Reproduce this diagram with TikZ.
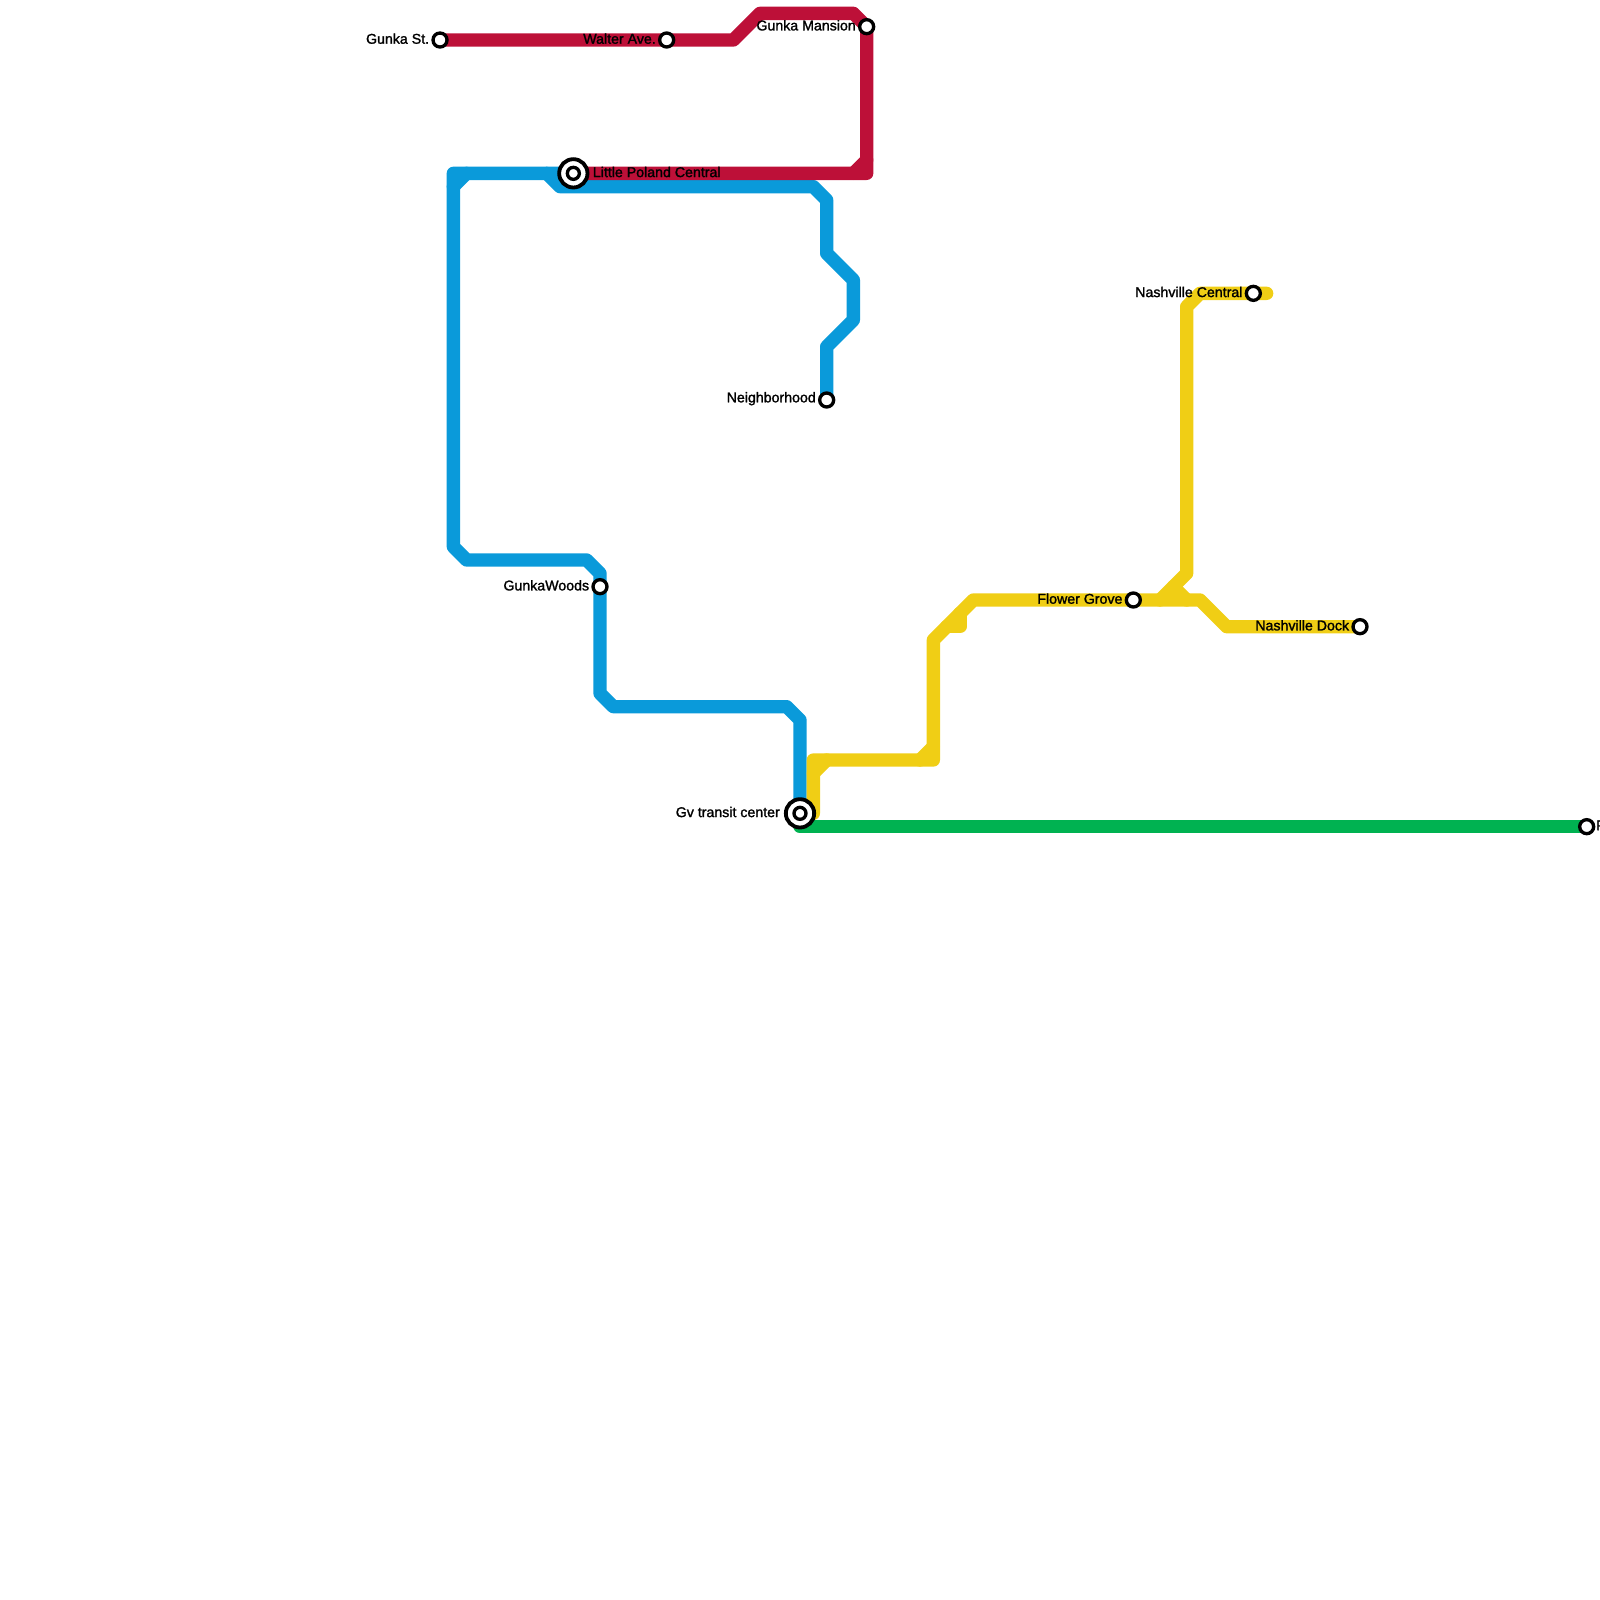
\documentclass[tikz,border=0pt]{standalone}
\usepackage{fontspec}
\setmainfont[FakeBold=1.5]{Liberation Sans}
\definecolor{redline}{HTML}{BD1038}
\definecolor{blueline}{HTML}{0A9ADA}
\definecolor{yellowline}{HTML}{F0CE15}
\definecolor{greenline}{HTML}{00B251}
\tikzset{
  metro/.style={line width=0.4cm,line cap=round,line join=round},
  stationmark/.style={circle,draw=black,fill=white,line width=0.1cm,minimum size=0.42cm,inner sep=0pt},
  hubouter/.style={circle,draw=black,fill=white,line width=0.115cm,minimum size=0.85cm,inner sep=0pt},
  hubinner/.style={circle,draw=black,fill=white,line width=0.1cm,minimum size=0.36cm,inner sep=0pt},
  stationlabel/.style={font=\fontsize{12.1pt}{14pt}\selectfont,text=black,inner sep=0pt}
}
\begin{document}
\begin{tikzpicture}[x=0.4cm,y=-0.4cm]
\useasboundingbox (0,0) rectangle (120,120);
\clip (0,0) rectangle (120,120);
\coordinate (gunkast) at (33,3);
\coordinate (walter) at (50,3);
\coordinate (mansion) at (65,2);
\coordinate (poland) at (43,13);
\coordinate (neigh) at (62,30);
\coordinate (woods) at (45,44);
\coordinate (gv) at (60,61);
\coordinate (flower) at (85,45);
\coordinate (nashc) at (94,22);
\coordinate (nashd) at (102,47);
\coordinate (eastend) at (119,62);
% blue
\draw[metro,blueline] (poland) -- (41,13) -- (42,14) -- (61,14) -- (62,15) -- (62,19) -- (64,21) -- (64,24) -- (62,26) -- (neigh);
\draw[metro,blueline] (41,13) -- (34,13) -- (34,41) -- (35,42) -- (44,42) -- (45,43) -- (woods) -- (45,52) -- (46,53) -- (59,53) -- (60,54) -- (gv);
\draw[metro,blueline] (34,14) -- (35,13);
% red
\draw[metro,redline] (gunkast) -- (walter) -- (55,3) -- (57,1) -- (64,1) -- (mansion) -- (65,13) -- (poland);
\draw[metro,redline] (64,13) -- (65,12);
% yellow
\draw[metro,yellowline] (61,61) -- (61,57) -- (70,57) -- (70,48) -- (73,45) -- (flower) -- (90,45) -- (92,47) -- (nashd);
\draw[metro,yellowline] (61,58) -- (62,57);
\draw[metro,yellowline] (69,57) -- (70,56);
\draw[metro,yellowline] (71,47) -- (72,47) -- (72,46);
\draw[metro,yellowline] (87,45) -- (89,43) -- (89,23) -- (90,22) -- (nashc) -- (95,22);
\draw[metro,yellowline] (88,44) -- (89,45);
% green
\draw[metro,greenline] (60,62) -- (eastend);
% stations
\node[stationmark] (sgunkast) at (gunkast) {};
\node[stationmark] (swalter) at (walter) {};
\node[stationmark] (smansion) at (mansion) {};
\node[stationmark] (sneigh) at (neigh) {};
\node[stationmark] (swoods) at (woods) {};
\node[stationmark] (sflower) at (flower) {};
\node[stationmark] (snashc) at (nashc) {};
\node[stationmark] (snashd) at (nashd) {};
\node[stationmark] (seast) at (eastend) {};
\node[hubouter] (spoland) at (poland) {};
\node[hubinner] (spolandi) at (poland) {};
\node[hubouter] (sgv) at (gv) {};
\node[hubinner] (sgvi) at (gv) {};
% labels
\node[stationlabel,anchor=east] (lgunkast) at (32.2,2.9) {Gunka St.};
\node[stationlabel,anchor=east] (lwalter) at (49.2,2.9) {Walter Ave.};
\node[stationlabel,anchor=east] (lmansion) at (64.2,1.9) {Gunka Mansion};
\node[stationlabel,anchor=west] (lpoland) at (44.45,12.9) {Little Poland Central};
\node[stationlabel,anchor=east] (lneigh) at (61.2,29.9) {Neighborhood};
\node[stationlabel,anchor=east] (lwoods) at (44.2,43.9) {GunkaWoods};
\node[stationlabel,anchor=east] (lgv) at (58.5,60.9) {Gv transit center};
\node[stationlabel,anchor=east] (lflower) at (84.2,44.9) {Flower Grove};
\node[stationlabel,anchor=east] (lnashc) at (93.2,21.9) {Nashville Central};
\node[stationlabel,anchor=east] (lnashd) at (101.2,46.9) {Nashville Dock};
\node[stationlabel,anchor=west] (least) at (119.7,61.9) {P};
\end{tikzpicture}
\end{document}
